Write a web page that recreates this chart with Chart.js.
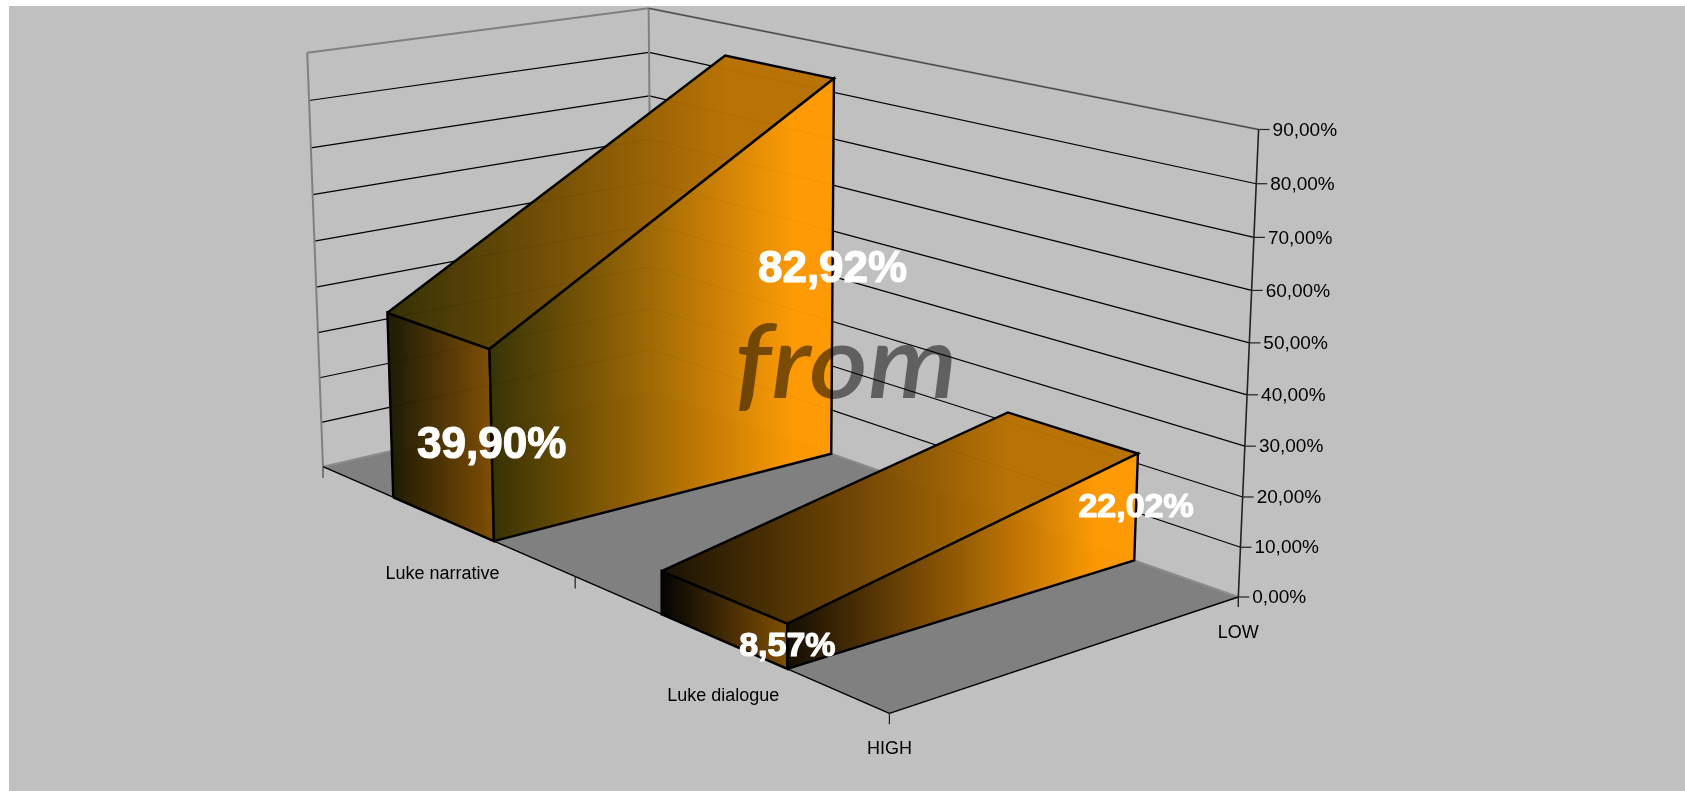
<!DOCTYPE html>
<html>
<head>
<meta charset="utf-8">
<style>
html, body { margin: 0; padding: 0; background: #fff; overflow: hidden; }
canvas { display: block; }
</style>
<script src="https://cdn.jsdelivr.net/npm/chart.js@4"></script>
</head>
<body>
<canvas id="chart" width="1685" height="791"></canvas>
<script>
const categories = ['HIGH', 'LOW'];
const seriesNames = ['Luke narrative', 'Luke dialogue'];
const lukeNarrative = [39.90, 82.92];
const lukeDialogue = [8.57, 22.02];
const valueTicks = [0, 10, 20, 30, 40, 50, 60, 70, 80, 90];
const valueLabels = ['0,00%', '10,00%', '20,00%', '30,00%', '40,00%', '50,00%', '60,00%', '70,00%', '80,00%', '90,00%'];
const watermark = 'from';

const W = 1685, H = 791;
const ORANGE = '255,153,0';

// Picture corners of the 3D box: floor, then the top of the left, back and right edges
const floorLeft = [323, 466.7], floorFront = [889.4, 713.3], floorRight = [1238.3, 597], floorBack = [652, 390.6];
const topLeft = [306.8, 52.7], topBack = [649.3, 8.3], topRight = [1258.3, 129.5];

// Floor homography (depth s 0..1, category c 0..1)
const dx1 = floorFront[0] - floorRight[0], dx2 = floorBack[0] - floorRight[0];
const dy1 = floorFront[1] - floorRight[1], dy2 = floorBack[1] - floorRight[1];
const sx = floorLeft[0] - floorFront[0] + floorRight[0] - floorBack[0];
const sy = floorLeft[1] - floorFront[1] + floorRight[1] - floorBack[1];
const den = dx1 * dy2 - dx2 * dy1;
const hg = (sx * dy2 - dx2 * sy) / den;
const hh = (dx1 * sy - sx * dy1) / den;
const ha = floorFront[0] - floorLeft[0] + hg * floorFront[0];
const hb = floorBack[0] - floorLeft[0] + hh * floorBack[0];
const hd = floorFront[1] - floorLeft[1] + hg * floorFront[1];
const he = floorBack[1] - floorLeft[1] + hh * floorBack[1];

// Height columns fitted to the top corners. The reference is not a strict
// projection, so x and y each get their own depth term.
const corners = [[0, 0, topLeft], [0, 1, topBack], [1, 1, topRight]].map(([s, c, t]) => {
    const w = hg * s + hh * c + 1;
    return {
        t,
        rx: t[0] * w - (ha * s + hb * c + floorLeft[0]),
        ry: t[1] * w - (hd * s + he * c + floorLeft[1])
    };
});
const mean = f => corners.reduce((acc, k) => acc + f(k), 0) / corners.length;
function fitColumn(axis, res) {
    const tBar = mean(k => k.t[axis]), rBar = mean(k => k[res]);
    const depth = -corners.reduce((acc, k) => acc + (k.t[axis] - tBar) * (k[res] - rBar), 0)
        / corners.reduce((acc, k) => acc + (k.t[axis] - tBar) ** 2, 0);
    return { depth, lift: rBar + tBar * depth };
}
const colX = fitColumn(0, 'rx');
// tick spacing read off both wall edges gives this y depth; the lift then
// passes exactly through all three top corners
const yDepth = -0.042;
const yLifts = corners.map(k => k.ry + k.t[1] * yDepth);

const maxValue = valueTicks[valueTicks.length - 1];

function project(s, c, value) {
    const z = value / maxValue;
    const w = hg * s + hh * c + 1;
    const yLift = yLifts[0] + (yLifts[1] - yLifts[0]) * c + (yLifts[2] - yLifts[1]) * s;
    return {
        x: (ha * s + hb * c + floorLeft[0] + colX.lift * z) / (w + colX.depth * z),
        y: (hd * s + he * c + floorLeft[1] + yLift * z) / (w + yDepth * z)
    };
}

function gradient(x0, x1, from, to) {
    const g = document.getElementById('chart').getContext('2d').createLinearGradient(x0, 0, x1, 0);
    g.addColorStop(0, from);
    g.addColorStop(1, to);
    return g;
}

const layers = [];

function polygon(points, fill, borderColor, borderWidth) {
    layers.push({
        data: points.concat([points[0]]),
        showLine: true,
        fill: 'shape',
        backgroundColor: fill,
        borderColor: borderColor,
        borderWidth: borderWidth,
        pointRadius: 0,
        tension: 0
    });
}

function segment(a, b, color, width) {
    layers.push({
        data: [a, b],
        showLine: true,
        fill: false,
        borderColor: color,
        borderWidth: width,
        pointRadius: 0,
        tension: 0
    });
}

function tickDown(p, len) {
    return { x: p.x, y: p.y + len };
}

// floor
polygon([project(0, 0, 0), project(1, 0, 0), project(1, 1, 0), project(0, 1, 0)], '#808080', 'rgba(0,0,0,0)', 0);

// walls
valueTicks.forEach((v, i) => {
    const isTop = i === valueTicks.length - 1;
    if (i === 0) return;
    segment(project(0, 0, v), project(0, 1, v), isTop ? '#808080' : '#000', isTop ? 2 : 1.2);
    segment(project(0, 1, v), project(1, 1, v), isTop ? '#808080' : '#000', isTop ? 2 : 1.2);
});
segment(project(0, 0, 0), project(0, 0, maxValue), '#808080', 2);
segment(project(0, 1, 0), project(0, 1, maxValue), '#808080', 2);
segment(project(0, 1, 0), project(1, 1, 0), '#8c8c8c', 2);
segment(project(0, 0, 0), project(0, 1, 0), '#8c8c8c', 2);
segment(project(0, 1, maxValue), project(1, 1, maxValue), '#333', 0.8);

// floor edges, axes and ticks
segment(project(0, 0, 0), project(1, 0, 0), '#000', 1.4);
segment(project(1, 0, 0), project(1, 1, 0), '#000', 1.4);
segment(project(1, 1, maxValue), project(1, 1, 0), '#222', 1.6);
segment(project(1, 1, 0), tickDown(project(1, 1, 0), 10), '#222', 1.4);
segment(project(1, 0, 0), tickDown(project(1, 0, 0), 11), '#222', 1.2);
segment(project(0.5, 0, 0), tickDown(project(0.5, 0, 0), 12), '#222', 1.2);
segment(project(0, 0, 0), tickDown(project(0, 0, 0), 11), '#444', 1.2);
valueTicks.forEach(v => {
    const p = project(1, 1, v);
    segment(p, { x: p.x + 11, y: p.y }, '#222', 1.2);
});

// the two areas, back one first
const depthBands = [[0.15, 0.35], [0.65, 0.85]];
const seriesValues = [lukeNarrative, lukeDialogue];
const faceColours = [
    { side: ['rgba(28,24,0,.97)', 'rgba(128,77,0,.97)'], top: ['rgba(48,44,0,.97)', 'rgba(184,112,0,.97)'], front: ['rgba(51,47,0,.97)', 'rgba(' + ORANGE + ',.97)'] },
    { side: ['rgba(0,0,0,.97)', 'rgba(128,77,0,.97)'], top: ['rgba(22,14,0,.97)', 'rgba(184,112,0,.97)'], front: ['rgba(16,10,0,.97)', 'rgba(' + ORANGE + ',.97)'] }
];

seriesValues.forEach((values, i) => {
    const [s0, s1] = depthBands[i];
    const colours = faceColours[i];
    const bb0 = project(s0, 0, 0), bt0 = project(s0, 0, values[0]);
    const fb0 = project(s1, 0, 0), ft0 = project(s1, 0, values[0]);
    const fb1 = project(s1, 1, 0), ft1 = project(s1, 1, values[1]);
    const bt1 = project(s0, 1, values[1]);
    polygon([bb0, bt0, ft0, fb0], gradient(bb0.x, fb0.x, colours.side[0], colours.side[1]), '#000', 2.4);
    polygon([bt0, bt1, ft1, ft0], gradient(bt0.x, bt1.x, colours.top[0], colours.top[1]), '#000', 2.4);
    polygon([fb0, ft0, ft1, fb1], gradient(ft0.x, ft0.x + (ft1.x - ft0.x) * 0.88, colours.front[0], colours.front[1]), '#000', 2.4);
});

// Chart.js draws the lowest order last, so paint order is reversed here
layers.forEach((layer, i) => { layer.order = layers.length - i; });

function text(ctx, str, x, y, font, color, align, heavy) {
    ctx.font = font;
    ctx.fillStyle = color;
    ctx.textAlign = align || 'center';
    ctx.textBaseline = 'middle';
    if (heavy) {
        ctx.strokeStyle = color;
        ctx.lineWidth = heavy;
        ctx.lineJoin = 'round';
        ctx.strokeText(str, x, y);
    }
    ctx.fillText(str, x, y);
}

const backdrop = {
    id: 'backdrop',
    beforeDraw(chart) {
        const ctx = chart.ctx;
        ctx.save();
        ctx.fillStyle = '#c0c0c0';
        ctx.fillRect(9, 6, W - 9, H - 6);
        ctx.restore();
    }
};

const labels3d = {
    id: 'labels3d',
    afterDatasetsDraw(chart) {
        const ctx = chart.ctx;
        const sc = chart.scales;
        const px = p => ({ x: sc.x.getPixelForValue(p.x), y: sc.y.getPixelForValue(p.y) });
        ctx.save();
        const axisFont = '19px "Liberation Sans"';
        const catFont = '18px "Liberation Sans"';
        valueTicks.forEach((v, i) => {
            const p = px(project(1, 1, v));
            text(ctx, valueLabels[i], p.x + 14, p.y + 1, axisFont, '#000', 'left');
        });
        seriesNames.forEach((name, i) => {
            const p = px(project((depthBands[i][0] + depthBands[i][1]) / 2, 0, 0));
            text(ctx, name, p.x, p.y + 55, catFont, '#000');
        });
        const high = px(project(1, 0, 0)), low = px(project(1, 1, 0));
        text(ctx, categories[0], high.x, high.y + 36, catFont, '#000');
        text(ctx, categories[1], low.x, low.y + 36, catFont, '#000');

        // watermark, a little wider than the installed italic
        ctx.save();
        ctx.translate(846, 398);
        ctx.scale(1.11, 1);
        ctx.font = 'italic 600 102px Lato';
        ctx.fillStyle = 'rgba(0,0,0,.5)';
        ctx.textAlign = 'center';
        ctx.textBaseline = 'alphabetic';
        ctx.fillText(watermark, 0, 0);
        ctx.restore();

        const labelFonts = ['bold 44px "Liberation Sans"', 'bold 34px "Liberation Sans"'];
        seriesValues.forEach((values, i) => {
            values.forEach((v, j) => {
                const p = px(project(depthBands[i][1], j, v / 2));
                text(ctx, v.toFixed(2).replace('.', ',') + '%', p.x, p.y, labelFonts[i], '#fff', 'center', 1.2);
            });
        });
        ctx.restore();
    }
};

new Chart(document.getElementById('chart'), {
    type: 'scatter',
    data: { datasets: layers },
    plugins: [backdrop, labels3d],
    options: {
        responsive: false,
        animation: false,
        devicePixelRatio: 1,
        layout: { padding: 0 },
        plugins: { legend: { display: false }, tooltip: { enabled: false } },
        scales: {
            x: { type: 'linear', display: false, min: 0, max: W },
            y: { type: 'linear', display: false, min: 0, max: H, reverse: true }
        }
    }
});
</script>
</body>
</html>
